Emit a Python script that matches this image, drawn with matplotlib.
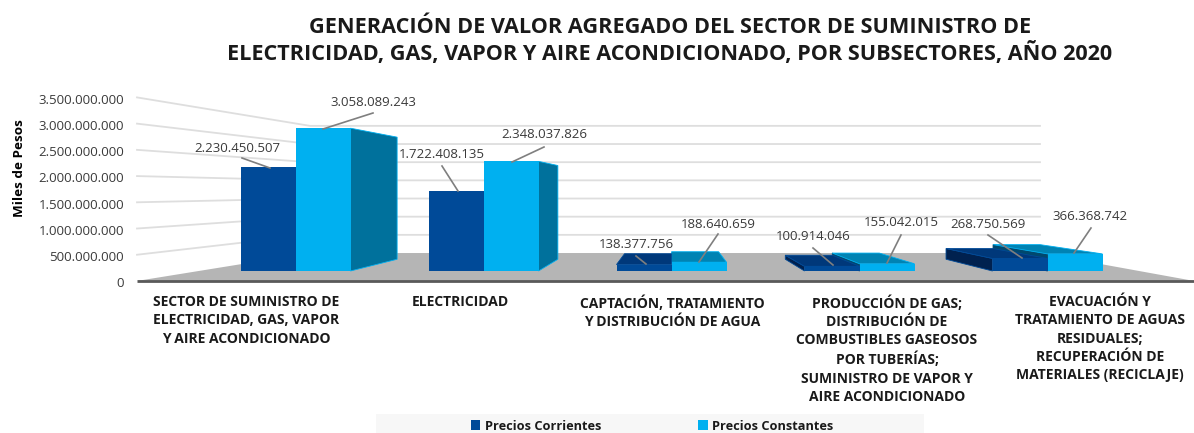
import matplotlib
matplotlib.use("Agg")
import matplotlib.pyplot as plt
from matplotlib.patches import Polygon, Rectangle

plt.rcParams['font.family'] = ['Open Sans', 'DejaVu Sans']

#Data
categorias = [
    "SECTOR DE SUMINISTRO DE\nELECTRICIDAD, GAS, VAPOR\nY AIRE ACONDICIONADO",
    "ELECTRICIDAD",
    "CAPTACIÓN, TRATAMIENTO\nY DISTRIBUCIÓN DE AGUA",
    "PRODUCCIÓN DE GAS;\nDISTRIBUCIÓN DE\nCOMBUSTIBLES GASEOSOS\nPOR TUBERÍAS;\nSUMINISTRO DE VAPOR Y\nAIRE ACONDICIONADO",
    "EVACUACIÓN Y\nTRATAMIENTO DE AGUAS\nRESIDUALES;\nRECUPERACIÓN DE\nMATERIALES (RECICLAJE)",
]
corrientes = [2230450507, 1722408135, 138377756, 100914046, 268750569]
constantes = [3058089243, 2348037826, 188640659, 155042015, 366368742]
y_ticks = [0, 500000000, 1000000000, 1500000000, 2000000000, 2500000000, 3000000000, 3500000000]

titulo = ("GENERACIÓN DE VALOR AGREGADO DEL SECTOR DE SUMINISTRO DE\n"
          "ELECTRICIDAD, GAS, VAPOR Y AIRE ACONDICIONADO, POR SUBSECTORES, AÑO 2020")

#Size of the figure and fake 3D geometry, in pixels of the picture
W, H = 1194, 433
PX_PER_VALUE = 0.0467e-6   #front plane of the bars
BASE_PY = 271
CENTER_PX = 295.5
STEP_PX = 188
BAR_PX = 55
VANISH_PX, VANISH_PY = 672, 190
DEPTH = 0.145              #depth of a bar
T_FRONT = -0.123           #front edge of the floor
T_BACK = 0.222             #back wall

DARK = "#004a98"
DARK_TOP = "#00387a"
DARK_SIDE = "#00214f"
LIGHT = "#00b0f0"
LIGHT_TOP = "#0083b3"
LIGHT_SIDE = "#00719c"
LIGHT_LEFT = "#00486e"
GRID = "#dedede"
TEXT = "#3a3a3a"

fig = plt.figure(figsize=(W / 100, H / 100), dpi=100)

#Main axes: x is the category number, y is the value on the front plane of the bars
ax = fig.add_axes([0, 0, 1, 1])
ax.set_xlim(-CENTER_PX / STEP_PX, (W - CENTER_PX) / STEP_PX)
ax.set_ylim((BASE_PY - H) / PX_PER_VALUE, BASE_PY / PX_PER_VALUE)
ax.axis('off')

vanish_x = (VANISH_PX - CENTER_PX) / STEP_PX
vanish_v = (BASE_PY - VANISH_PY) / PX_PER_VALUE
bar_w = BAR_PX / STEP_PX

def proj(x, v, t):
    return (x + t * (vanish_x - x), v + t * (vanish_v - v))

def px_x(px):
    return (px - CENTER_PX) / STEP_PX

#Floor
x_fl, x_fb, x_br, x_fr = px_x(137), px_x(310), px_x(1040), px_x(1194)
v_front = proj(0, 0, T_FRONT)[1]
v_back = proj(0, 0, T_BACK)[1]
ax.add_patch(Polygon([(x_fl, v_front), (x_fb, v_back), (x_br, v_back), (x_fr, v_front)],
                     closed=True, facecolor="#b5b5b5", edgecolor="none", zorder=1))
ax.plot([x_fl, x_fr], [v_front, v_front], color="#595959", lw=2, zorder=7, solid_capstyle='butt')

#Walls grid
for tick in y_ticks[1:]:
    v1 = proj(0, tick, T_FRONT)[1]
    v2 = proj(0, tick, T_BACK)[1]
    ax.plot([x_fl, x_fb, x_br], [v1, v2, v2], color=GRID, lw=1.3, zorder=2)

#Faces going back from the front plane
def side_face(x_edge, v, col, z, edge):
    ax.add_patch(Polygon([(x_edge, 0), (x_edge, v), proj(x_edge, v, DEPTH), proj(x_edge, 0, DEPTH)],
                         closed=True, facecolor=col, edgecolor=edge, lw=0.6, zorder=z))

def top_face(x0, x1, v, col, z, edge):
    #the top can only be seen when it is well under the eye line
    if v < 0.9 * vanish_v:
        ax.add_patch(Polygon([(x0, v), (x1, v), proj(x1, v, DEPTH), proj(x0, v, DEPTH)],
                             closed=True, facecolor=col, edgecolor=edge, lw=0.6, zorder=z))

#Bars, the light one goes first
for i in range(len(categorias)):
    if i + bar_w < vanish_x:
        side_face(i + bar_w, constantes[i], LIGHT_SIDE, 3, LIGHT)
    if i > vanish_x:
        side_face(i, constantes[i], LIGHT_LEFT, 3, LIGHT_LEFT)
    top_face(i, i + bar_w, constantes[i], LIGHT_TOP, 3, LIGHT)
    if i - bar_w > vanish_x:
        side_face(i - bar_w, corrientes[i], DARK_SIDE, 5, DARK)
    top_face(i - bar_w, i, corrientes[i], DARK_TOP, 5, DARK)

x_pos = list(range(len(categorias)))
b2 = ax.bar(x_pos, constantes, bar_w, align='edge', color=LIGHT, zorder=4, label="Precios Constantes")
b1 = ax.bar([p - bar_w for p in x_pos], corrientes, bar_w, align='edge', color=DARK, zorder=6, label="Precios Corrientes")

#Value axis of the left wall
ax_y = fig.add_axes([137 / W, (H - 282) / H, 1 / W, (282 - 99) / H])
ax_y.set_ylim(0, 3500000000)
ax_y.set_yticks(y_ticks)
ax_y.set_yticklabels([f"{t:,}".replace(",", ".") for t in y_ticks], fontsize=9.55, color=TEXT)
ax_y.tick_params(axis='y', length=0, pad=9.4)
ax_y.set_xticks([])
for s in ax_y.spines.values():
    s.set_visible(False)
ax_y.patch.set_alpha(0)
ax_y.set_ylabel("Miles de Pesos", fontsize=9.7, fontweight='bold', color="black")
ax_y.yaxis.set_label_coords(-111, 0.62)

#Layer in pixels for the texts
ov = fig.add_axes([0, 0, 1, 1], zorder=5)
ov.set_xlim(0, W)
ov.set_ylim(H, 0)
ov.axis('off')
ov.patch.set_alpha(0)

ov.text(670, 41, titulo, ha='center', va='center', fontsize=15.55, fontweight='bold',
        color="#1a1a1a", linespacing=1.27)

etiquetas_x = [246, 460, 672, 887, 1100]
for cx, c in zip(etiquetas_x, categorias):
    ov.text(cx, 295, c, ha='center', va='top', fontsize=10, fontweight='bold', color="#1a1a1a", linespacing=1.39)

#label position and leader line for each value
valores = corrientes + constantes
pos_label = [(237, 148), (442, 155), (636, 245), (813, 237), (988, 224),
             (373, 102), (544, 135), (718, 224), (901, 223), (1090, 216)]
pos_line = [((242, 158), (270, 168)), ((442, 166), (458, 191)), ((636, 256), (646, 264)),
            ((813, 248), (833, 265)), ((988, 235), (1022, 258)),
            ((373, 113), (323, 129)), ((544, 147), (512, 162)), ((718, 234), (699, 262)),
            ((901, 235), (887, 263)), ((1091, 228), (1074, 253))]
for val, (lx, ly), (p0, p1) in zip(valores, pos_label, pos_line):
    ov.plot([p0[0], p1[0]], [p0[1], p1[1]], color="#7f7f7f", lw=1.2)
    ov.text(lx, ly, f"{val:,}".replace(",", "."), ha='center', va='center', fontsize=9.5, color=TEXT)

#Legend
ov.add_patch(Rectangle((376, 414), 548, 19, facecolor="#f7f7f7", edgecolor="none"))
ov.legend([b1, b2], ["Precios Corrientes", "Precios Constantes"], ncol=2, frameon=False,
          loc='center', bbox_to_anchor=(652, 426), bbox_transform=ov.transData,
          prop={'size': 9.2, 'weight': 'bold'}, handlelength=0.75, handleheight=0.8,
          handletextpad=0.35, columnspacing=7.6, labelcolor="#1a1a1a", borderpad=0)

fig.savefig("out.png", dpi=100)
